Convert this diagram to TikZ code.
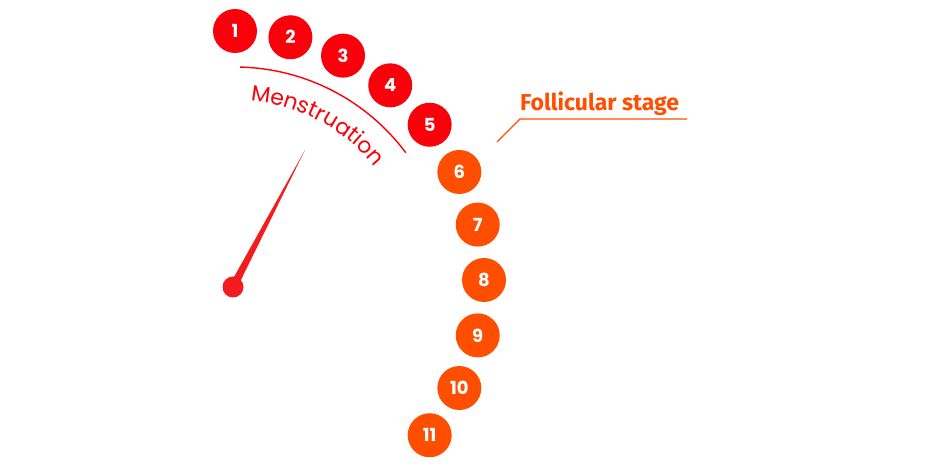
\documentclass[tikz,border=0pt]{standalone}
\usepackage{fontspec}
\setmainfont{Poppins}
\newfontfamily\stagefont{Fira Sans}
\usetikzlibrary{positioning,calc,decorations.text}
\definecolor{mensred}{RGB}{250,0,10}
\definecolor{follorange}{RGB}{255,78,0}
\definecolor{needlered}{RGB}{242,28,30}
\tikzset{
  daybox/.style={circle, fill=mensred, text=white, minimum size=44pt, inner sep=0pt, font=\fontsize{18}{18}\selectfont\bfseries},
  daybox2/.style={daybox, fill=follorange},
  phaseline/.style={line width=1.4pt},
  hubdot/.style={circle, fill=needlered, minimum size=21pt, inner sep=0pt},
  stagelabel/.style={text=follorange, inner sep=0pt, font=\stagefont\fontsize{23}{23}\selectfont\bfseries}
}

\begin{document}
\begin{tikzpicture}[x=1pt, y=1pt]
  \useasboundingbox (0,0) rectangle (940,470);
  \coordinate (ctr) at (235,190);
  % days of the cycle
  \foreach \d in {1,...,11}{
    \pgfmathsetmacro{\ang}{90-(\d-1)*360/28}
    \ifnum\d<6 \def\sty{daybox}\else\def\sty{daybox2}\fi
    \node[\sty] (d\d) at ([shift={(\ang:249)}]ctr) {\d};
  }
  % menstruation
  \draw[mensred, phaseline] ([shift={(88.6:213)}]ctr) arc[start angle=88.6, end angle=36.7, radius=213];
  \path[decorate, decoration={text along path, text align=center,
      text={|\fontsize{22}{22}\selectfont\color{mensred}|Menstruation}}]
    ([shift={(92:180)}]ctr) arc[start angle=92, end angle=32, radius=180];
  % needle
  \node[hubdot] (hub) at (233,183) {};
  \coordinate (tip) at (305,320);
  \fill[needlered] ($(hub)!4pt!90:(tip)$) -- (tip) -- ($(hub)!4pt!-90:(tip)$) -- cycle;
  % follicular stage
  \node[stagelabel, anchor=base west] (foll) at (520,359) {Follicular stage};
  \coordinate (entry) at (497,328);
  \coordinate (kink) at (520,351);
  \coordinate (lineend) at (687,351);
  \draw[follorange, phaseline] (entry) -- (kink) -- (lineend);
\end{tikzpicture}
\end{document}
